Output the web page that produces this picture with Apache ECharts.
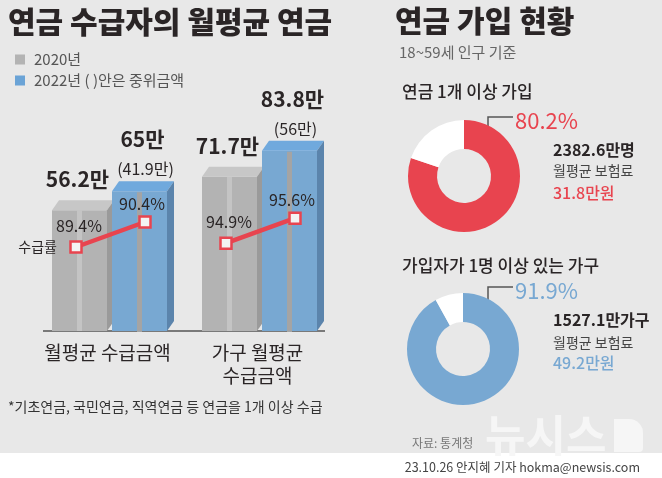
<!DOCTYPE html>
<html><head><meta charset="utf-8">
<script src="https://cdn.jsdelivr.net/npm/echarts@6/dist/echarts.min.js"></script>
<style>html,body{margin:0;padding:0;background:#e8e8e8}#c{width:662px;height:478px}</style>
</head><body><div id="c"></div>
<script>
const FONT = "'Noto Sans CJK KR', 'Noto Sans', sans-serif";

// ---- data ----
const leftTitle = '연금 수급자의 월평균 연금';
const rightTitle = '연금 가입 현황';
const rightSubtitle = '18~59세 인구 기준';
const categories = ['월평균 수급금액', '가구 월평균\n수급금액'];
const seriesNames = ['2020년', '2022년 ( )안은 중위금액'];
const amount2020 = [56.2, 71.7];
const amount2022 = [65, 83.8];
const median2022 = [41.9, 56];
const rate2020 = [89.4, 94.9];
const rate2022 = [90.4, 95.6];
const rateLabel = '수급률';
const footnote = '*기초연금, 국민연금, 직역연금 등 연금을 1개 이상 수급';
const joinTitles = ['연금 1개 이상 가입', '가입자가 1명 이상 있는 가구'];
const joinRate = [80.2, 91.9];
const nonJoinRate = [19.8, 8.1];
const joinCount = ['2382.6만명', '1527.1만가구'];
const premiumLabel = '월평균 보험료';
const premium = [31.8, 49.2];
const source = '자료: 통계청';
const credit = '23.10.26 안지혜 기자 hokma@newsis.com';

// ---- styles ----
const DARK = '#2a2526';
const RED = '#e8444f';
const BLUE = '#78a8d2';
const palette = {
  gray: {front: '#b3b3b3', top: '#c7c7c7', side: '#9a9a9a', stripe: '#c4c4c4'},
  blue: {front: '#78a8d2', top: '#70a9dd', side: '#5b84ac', stripe: '#a4a4a4'}
};
const BAR = {w: 55, dx: 7, dy: 10};

function txt(text, x, y, font, fill, align) {
  return {text: text, x: x, y: y, font: font, fill: fill,
    align: align || 'center', verticalAlign: 'middle',
    textAlign: align || 'center', textVerticalAlign: 'middle'};
}

function makeBarRender(kind) {
  return function (params, api) {
    const cat = api.value(0), v = api.value(1);
    const top = api.coord([cat, v]);
    const base = api.coord([cat, 0]);
    const p = palette[kind];
    const w = BAR.w, dx = BAR.dx, dy = BAR.dy;
    const x0 = top[0] + (kind === 'gray' ? -61 : -1);
    const y0 = top[1], y1 = base[1];
    const children = [
      {type: 'rect', shape: {x: x0, y: y0, width: w, height: y1 - y0}, style: {fill: p.front}},
      {type: 'rect', shape: {x: x0 + w / 2 - 2.5, y: y0 + (kind === 'blue' ? 1 : 0), width: 5, height: y1 - y0}, style: {fill: p.stripe}},
      {type: 'polygon', shape: {points: [[x0, y0], [x0 + dx, y0 - dy], [x0 + w + dx, y0 - dy], [x0 + w, y0]]}, style: {fill: p.top}},
      {type: 'polygon', shape: {points: [[x0 + w, y0], [x0 + w + dx, y0 - dy], [x0 + w + dx, y1 - dy], [x0 + w, y1]]}, style: {fill: p.side}}
    ];
    const cx = x0 + w / 2;
    if (kind === 'gray') {
      children.push({type: 'text', style: txt(v + '만', cx - 2, y0 - 31, 'bold 21px ' + FONT, DARK)});
    } else {
      children.push({type: 'text', style: txt(v + '만', cx + 3, y0 - 52, 'bold 21px ' + FONT, DARK)});
      children.push({type: 'text', style: txt('(' + api.value(2) + '만)', cx + 6, y0 - 22, '16px ' + FONT, DARK)});
    }
    return {type: 'group', children: children};
  };
}

function rateRender(params, api) {
  const cat = api.value(0);
  const p1 = api.coord([cat, api.value(1)]);
  const p2 = api.coord([cat, api.value(2)]);
  const x1 = p1[0] - 37, y1 = p1[1], x2 = p2[0] + 32, y2 = p2[1];
  const s = 11;
  const children = [
    {type: 'line', shape: {x1: x1, y1: y1, x2: x2, y2: y2}, style: {stroke: RED, lineWidth: 4.5}},
    {type: 'rect', shape: {x: x1 - s / 2, y: y1 - s / 2, width: s, height: s}, style: {fill: '#f3f3f3', stroke: RED, lineWidth: 2.5}},
    {type: 'rect', shape: {x: x2 - s / 2, y: y2 - s / 2, width: s, height: s}, style: {fill: '#f3f3f3', stroke: RED, lineWidth: 2.5}},
    {type: 'text', style: txt(api.value(1) + '%', x1 + 3, y1 - 21, '16px ' + FONT, DARK)},
    {type: 'text', style: txt(api.value(2) + '%', x2 - 3, y2 - 18, '16px ' + FONT, DARK)}
  ];
  if (cat === 0) {
    children.push({type: 'text', style: txt(rateLabel, x1 - 19, y1, '14px ' + FONT, DARK, 'right')});
  }
  return {type: 'group', children: children};
}

function donut(i, center, color, leader) {
  return {
    type: 'pie', center: center, radius: [27, 56], startAngle: 90, clockwise: true,
    silent: true, animation: false, emphasis: {disabled: true},
    label: {show: false}, labelLine: {show: false},
    data: [
      {value: joinRate[i], name: 'join', itemStyle: {color: color},
        label: {show: true, position: 'outside', formatter: joinRate[i] + '%', color: color,
          fontSize: 22, fontFamily: FONT},
        labelLine: {show: true, lineStyle: {color: '#555', width: 1.5}}},
      {value: nonJoinRate[i], name: 'non', itemStyle: {color: '#ffffff'}}
    ],
    labelLayout: function () {
      return {x: leader[2][0] + 2, y: leader[1][1] + 4, align: 'left', verticalAlign: 'middle',
        labelLinePoints: leader};
    }
  };
}

const chart = echarts.init(document.getElementById('c'), null, {renderer: 'canvas'});

const graphics = [
  {type: 'rect', shape: {x: 0, y: 453, width: 662, height: 25}, style: {fill: '#ffffff'}, z: -1},
  {type: 'text', style: txt(leftTitle, 8, 22, '900 30px ' + FONT, DARK, 'left')},
  {type: 'text', style: txt(rightTitle, 395, 21, '900 30px ' + FONT, DARK, 'left')},
  {type: 'text', style: txt(rightSubtitle, 399, 52, '15px ' + FONT, '#666', 'left')},
  {type: 'text', style: txt(footnote, 8, 407, '14px ' + FONT, '#333', 'left')},
  {type: 'text', style: txt(joinTitles[0], 402, 92, '500 17px ' + FONT, DARK, 'left')},
  {type: 'text', style: txt(joinTitles[1], 402, 266, '500 17px ' + FONT, DARK, 'left')},
  {type: 'text', style: txt(joinCount[0], 553, 150, 'bold 16px ' + FONT, DARK, 'left')},
  {type: 'text', style: txt(premiumLabel, 553, 171, '14px ' + FONT, '#444', 'left')},
  {type: 'text', style: txt(premium[0] + '만원', 553, 193, '500 16px ' + FONT, RED, 'left')},
  {type: 'text', style: txt(joinCount[1], 553, 320, 'bold 16px ' + FONT, DARK, 'left')},
  {type: 'text', style: txt(premiumLabel, 553, 343, '14px ' + FONT, '#444', 'left')},
  {type: 'text', style: txt(premium[1] + '만원', 553, 363, '500 16px ' + FONT, BLUE, 'left')},
  {type: 'line', shape: {x1: 43, y1: 331, x2: 325, y2: 331}, style: {stroke: '#555', lineWidth: 1.5}},
  {type: 'text', style: txt(source, 412, 443, '12px ' + FONT, '#777', 'left')},
  {type: 'text', style: txt('뉴시스', 485, 435, 'bold 44px ' + FONT, '#f6f6f6', 'left')},
  {type: 'rect', shape: {x: 614, y: 419, width: 29, height: 33, r: [0, 14, 4, 0]}, style: {fill: '#f6f6f6'}},
  {type: 'text', style: txt(credit, 640, 467, '12.5px ' + FONT, '#444', 'right')}
];

chart.setOption({
  backgroundColor: '#e8e8e8',
  animation: false,
  textStyle: {fontFamily: FONT},
  legend: {
    orient: 'vertical', left: 10, top: 47, icon: 'rect', itemWidth: 10, itemHeight: 10, itemGap: 6,
    selectedMode: false, data: seriesNames,
    textStyle: {fontSize: 15, color: '#555', fontFamily: FONT, padding: [0, 0, 0, 4]}
  },
  grid: {left: 38, width: 300, top: 116, bottom: 147, containLabel: false, outerBoundsMode: 'none'},
  xAxis: {
    type: 'category', data: categories,
    axisLine: {show: false}, axisTick: {show: false},
    axisLabel: {interval: 0, hideOverlap: false, fontSize: 19, color: DARK, margin: 10, lineHeight: 23,
      fontFamily: FONT, padding: [0, 11, 0, 0]}
  },
  yAxis: [
    {type: 'value', min: 0, max: 100, show: false},
    {type: 'value', min: 86.04, max: 94.64, show: false},
    {type: 'value', min: 92.44, max: 98.46, show: false}
  ],
  series: [
    {type: 'custom', name: seriesNames[0], itemStyle: {color: '#b3b3b3'}, renderItem: makeBarRender('gray'),
      encode: {x: 0, y: 1}, data: amount2020.map((v, i) => [i, v]), silent: true},
    {type: 'custom', name: seriesNames[1], itemStyle: {color: '#6aa3d6'}, renderItem: makeBarRender('blue'),
      encode: {x: 0, y: 1}, data: amount2022.map((v, i) => [i, v, median2022[i]]), silent: true},
    {type: 'custom', name: rateLabel + '1', yAxisIndex: 1, renderItem: rateRender, silent: true,
      encode: {x: 0, y: [1, 2]}, data: [[0, rate2020[0], rate2022[0]]]},
    {type: 'custom', name: rateLabel + '2', yAxisIndex: 2, renderItem: rateRender, silent: true,
      encode: {x: 0, y: [1, 2]}, data: [[1, rate2020[1], rate2022[1]]]},
    donut(0, [464, 176], RED, [[488, 137], [488, 117], [513, 117]]),
    donut(1, [463, 349], BLUE, [[488, 308], [488, 287], [513, 287]])
  ],
  graphic: {elements: graphics}
});
</script></body></html>
